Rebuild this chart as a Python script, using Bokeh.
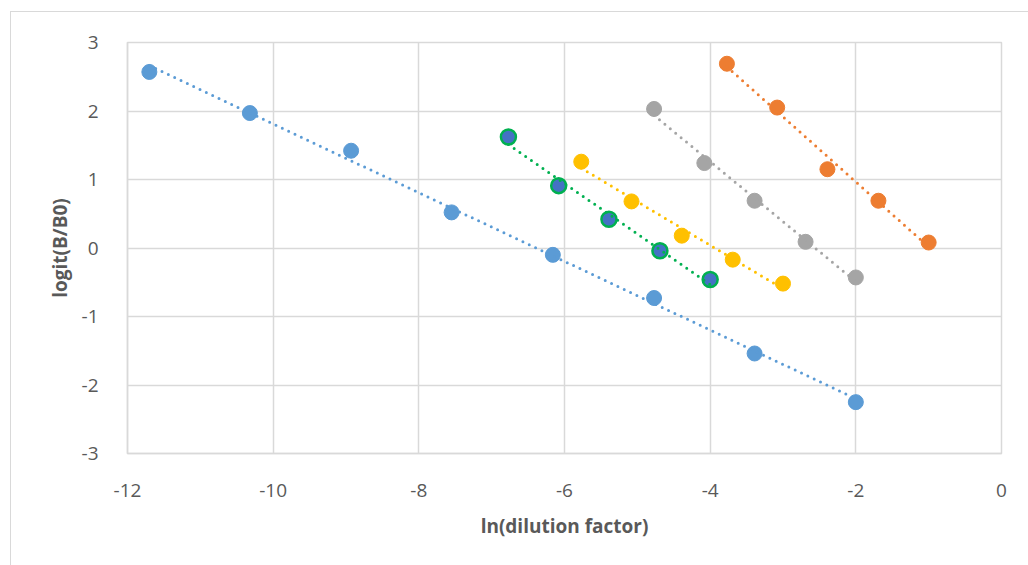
import numpy as np
from bokeh.plotting import figure
from bokeh.models import FixedTicker, Range1d, CustomJSTickFormatter
from bokeh.embed import file_html
from bokeh.resources import INLINE

# ---- data ----
blue_x = [-11.70, -10.32, -8.93, -7.55, -6.16, -4.77, -3.39, -2.00]
blue_y = [2.57, 1.97, 1.42, 0.52, -0.10, -0.73, -1.54, -2.25]

orange_x = [-3.77, -3.08, -2.39, -1.69, -1.00]
orange_y = [2.69, 2.05, 1.15, 0.69, 0.08]

grey_x = [-4.77, -4.08, -3.39, -2.69, -2.00]
grey_y = [2.03, 1.24, 0.69, 0.09, -0.43]

yellow_x = [-5.77, -5.08, -4.39, -3.69, -3.00]
yellow_y = [1.26, 0.68, 0.18, -0.17, -0.52]

green_x = [-6.77, -6.08, -5.39, -4.69, -4.00]
green_y = [1.62, 0.91, 0.42, -0.04, -0.46]

x_ticks = [-12, -10, -8, -6, -4, -2, 0]
y_ticks = [-3, -2, -1, 0, 1, 2, 3]

FONT = "Open Sans"
TICK_COLOR = "#595959"

p = figure(width=1018, height=554, output_backend="svg", toolbar_location=None,
           x_range=Range1d(-12, 0), y_range=Range1d(-3, 3),
           min_border_left=116, min_border_right=28, min_border_top=30, min_border_bottom=113)
p.margin = (11, 0, 0, 10)
p.styles = {"border-left": "1px solid #d9d9d9", "border-top": "1px solid #d9d9d9"}
p.outline_line_color = "#d9d9d9"
p.outline_line_width = 1.5
p.background_fill_color = "white"
p.border_fill_color = "white"

fmt = CustomJSTickFormatter(code="return String(Math.round(tick));")
for ax in (p.xaxis[0], p.yaxis[0]):
    ax.formatter = fmt
    ax.major_tick_line_color = None
    ax.minor_tick_line_color = None
    ax.axis_line_color = "#d9d9d9"
    ax.axis_line_width = 1.5
    ax.major_label_text_font = FONT
    ax.major_label_text_font_size = "19px"
    ax.major_label_text_color = TICK_COLOR
    ax.axis_label_text_font = FONT
    ax.axis_label_text_font_style = "bold"
    ax.axis_label_text_font_size = "19px"
    ax.axis_label_text_color = TICK_COLOR

p.xaxis.ticker = FixedTicker(ticks=x_ticks)
p.yaxis.ticker = FixedTicker(ticks=y_ticks)
p.xaxis.major_label_standoff = 24
p.yaxis.major_label_standoff = 23
p.xaxis.axis_label = "ln(dilution factor)"
p.yaxis.axis_label = "logit(B/B0)"
p.xaxis.axis_label_standoff = 13
p.yaxis.axis_label_standoff = 6

p.xgrid.ticker = FixedTicker(ticks=x_ticks)
p.ygrid.ticker = FixedTicker(ticks=y_ticks)
p.xgrid.grid_line_color = "#d9d9d9"
p.ygrid.grid_line_color = "#d9d9d9"
p.xgrid.grid_line_width = 1.5
p.ygrid.grid_line_width = 1.5

series = [
    (blue_x, blue_y, "#5B9BD5", "#5B9BD5", "#5B9BD5"),
    (orange_x, orange_y, "#ED7D31", "#ED7D31", "#ED7D31"),
    (grey_x, grey_y, "#A5A5A5", "#A5A5A5", "#A5A5A5"),
    (yellow_x, yellow_y, "#FFC000", "#FFC000", "#FFC000"),
    (green_x, green_y, "#4472C4", "#00B050", "#00B050"),
]

for xs, ys, fill, edge, _ in series:
    lw = 2.5 if fill != edge else 1
    p.scatter(xs, ys, size=15, fill_color=fill, line_color=edge, line_width=lw)

for xs, ys, _, _, tc in series:
    m, b = np.polyfit(xs, ys, 1)
    x0, x1 = min(xs), max(xs)
    p.line([x0, x1], [m * x0 + b, m * x1 + b], line_color=tc, line_width=3,
           line_dash="0 7", line_cap="round")

open("out.html", "w").write(file_html(p, INLINE))
